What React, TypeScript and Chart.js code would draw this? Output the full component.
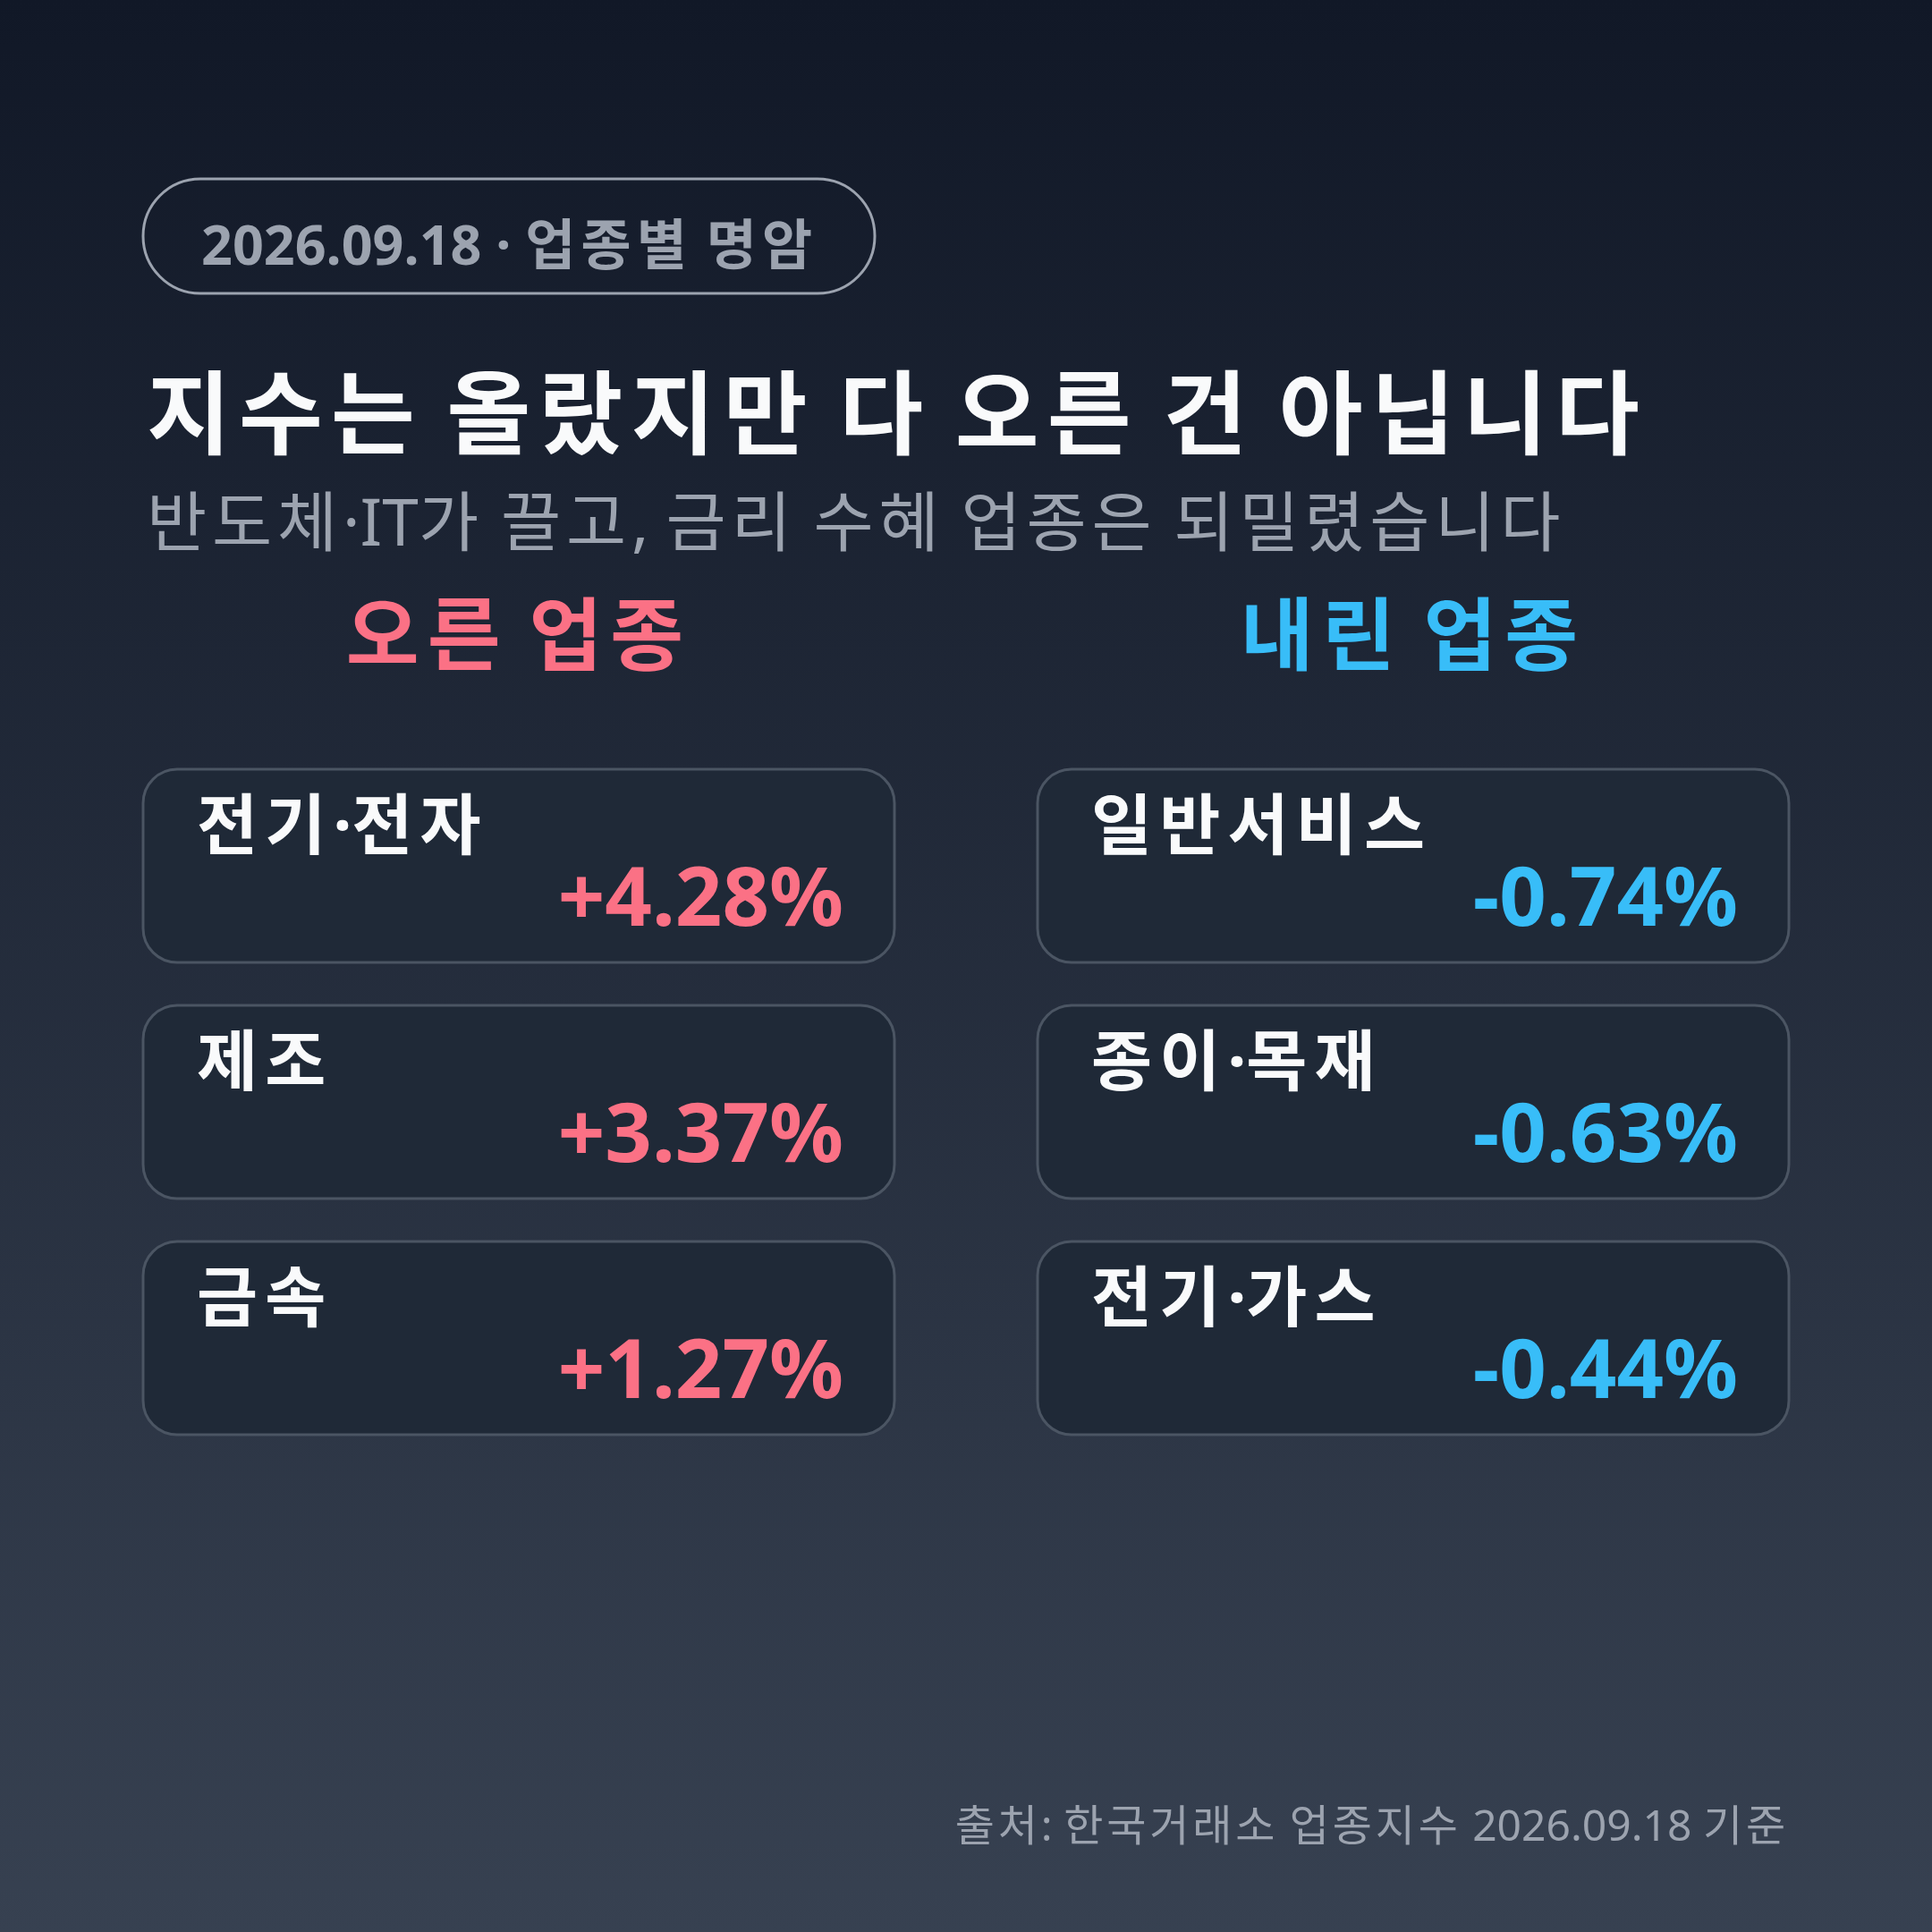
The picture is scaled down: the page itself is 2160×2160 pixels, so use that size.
import { useEffect, useRef } from "react"
import { Chart, registerables } from "chart.js"

Chart.register(...registerables)

// 데이터
const columns = ["오른 업종", "내린 업종"]
const ranks = ["1", "2", "3"]
const riseSectors = ["전기·전자", "제조", "금속"]
const riseChanges = [4.28, 3.37, 1.27]
const fallSectors = ["일반서비스", "종이·목재", "전기·가스"]
const fallChanges = [-0.74, -0.63, -0.44]

const badgeText = "2026.09.18 · 업종별 명암"
const titleText = "지수는 올랐지만 다 오른 건 아닙니다"
const subtitleText = "반도체·IT가 끌고, 금리 수혜 업종은 되밀렸습니다"
const sourceText = "출처: 한국거래소 업종지수 2026.09.18 기준"

const FONT = '"Noto Sans", "Noto Sans CJK KR", sans-serif'
const RISE = "#fb7185"
const FALL = "#38bdf8"
const GRAY = "#9ca3af"
const WHITE = "#f9fafb"

const fmt = (v: number) => (v > 0 ? "+" : "") + v.toFixed(2) + "%"

function roundRect(ctx: CanvasRenderingContext2D, x: number, y: number, w: number, h: number, r: number) {
  ctx.beginPath()
  ctx.moveTo(x + r, y)
  ctx.arcTo(x + w, y, x + w, y + h, r)
  ctx.arcTo(x + w, y + h, x, y + h, r)
  ctx.arcTo(x, y + h, x, y, r)
  ctx.arcTo(x, y, x + w, y, r)
  ctx.closePath()
}

// 한글 구간만 자간을 넓혀서 그림
const isHangul = (s: string) => /[\uAC00-\uD7A3]/.test(s)
function drawText(
  ctx: CanvasRenderingContext2D,
  text: string,
  x: number,
  y: number,
  weight: string,
  size: number,
  align: "left" | "right" | "center",
  spacing = weight === "bold" ? 0.1 : 0.08,
) {
  ctx.font = `${weight} ${size}px ${FONT}`
  ctx.textAlign = "left"
  const c = ctx as any
  const parts = text.match(/[\uAC00-\uD7A3]+|[^\uAC00-\uD7A3]+/g) ?? []
  const gap = size * spacing
  c.letterSpacing = "0px"
  const widths = parts.map((p) => ctx.measureText(p).width + (isHangul(p) ? gap * Array.from(p).length : 0))
  const total = widths.reduce((a, b) => a + b, 0)
  let cx = align === "left" ? x : align === "right" ? x - total : x - total / 2
  parts.forEach((p, i) => {
    c.letterSpacing = isHangul(p) ? `${gap}px` : "0px"
    ctx.fillText(p, cx, y)
    cx += widths[i]
  })
  c.letterSpacing = "0px"
}

const cardPlugin = {
  id: "cards",
  beforeDraw(chart: Chart) {
    const { ctx, width, height } = chart
    const g = ctx.createLinearGradient(0, 0, 0, height)
    g.addColorStop(0, "#111827")
    g.addColorStop(1, "#374151")
    ctx.save()
    ctx.fillStyle = g
    ctx.fillRect(0, 0, width, height)

    // 배지
    roundRect(ctx, 160, 200, 818, 128, 64)
    ctx.lineWidth = 3
    ctx.strokeStyle = GRAY
    ctx.stroke()
    ctx.textBaseline = "alphabetic"
    ctx.fillStyle = GRAY
    drawText(ctx, badgeText, 225, 296, "bold", 61, "left")

    ctx.fillStyle = WHITE
    drawText(ctx, titleText, 164, 500, "bold", 102, "left", 0.09)

    ctx.fillStyle = GRAY
    drawText(ctx, subtitleText, 164, 610, "400", 73, "left")
    drawText(ctx, sourceText, 2000, 2058, "400", 48, "right")
    ctx.restore()
  },
  afterDatasetsDraw(chart: Chart) {
    const { ctx } = chart
    const xs = chart.scales.x
    const ys = chart.scales.y
    const cw = (xs.width / columns.length) * 0.84
    const ch = (ys.height / ranks.length) * 0.818
    ctx.save()
    ctx.textBaseline = "alphabetic"
    columns.forEach((c, i) => {
      ctx.fillStyle = i === 0 ? RISE : FALL
      drawText(ctx, c, xs.getPixelForValue(i), chart.chartArea.top - 94, "bold", 89, "center")
    })
    chart.data.datasets.forEach((ds, d) => {
      const meta = chart.getDatasetMeta(d)
      const names = d === 0 ? riseSectors : fallSectors
      const vals = d === 0 ? riseChanges : fallChanges
      meta.data.forEach((el, i) => {
        const left = el.x - cw / 2
        const top = el.y - ch / 2
        roundRect(ctx, left, top, cw, ch, 38)
        ctx.fillStyle = "#1f2937"
        ctx.fill()
        ctx.lineWidth = 3
        ctx.strokeStyle = "#4b5563"
        ctx.stroke()

        ctx.fillStyle = WHITE
        drawText(ctx, names[i], left + 60, top + 89, "bold", 74, "left", 0.11)

        ctx.fillStyle = ds.borderColor as string
        drawText(ctx, fmt(vals[i]), left + cw - 57, top + 175, "bold", 92, "right")
      })
    })
    ctx.restore()
  },
}

export default function App() {
  const chartRef = useRef<HTMLCanvasElement>(null)
  const chartInstance = useRef<Chart | null>(null)

  useEffect(() => {
    if (!chartRef.current) return
    if (chartInstance.current) chartInstance.current.destroy()

    const ctx = chartRef.current.getContext("2d")
    if (!ctx) return

    chartInstance.current = new Chart(ctx, {
      type: "scatter",
      data: {
        datasets: [
          {
            label: columns[0],
            data: riseChanges.map((_, i) => ({ x: 0, y: i })),
            borderColor: RISE,
            pointRadius: 0,
          },
          {
            label: columns[1],
            data: fallChanges.map((_, i) => ({ x: 1, y: i })),
            borderColor: FALL,
            pointRadius: 0,
          },
        ],
      },
      options: {
        animation: false,
        responsive: true,
        maintainAspectRatio: false,
        devicePixelRatio: 1,
        layout: { padding: { left: 80, right: 80, top: 836, bottom: 532 } },
        plugins: { legend: { display: false }, tooltip: { enabled: false } },
        scales: {
          x: { type: "linear", min: -0.5, max: columns.length - 0.5, display: false },
          y: { type: "linear", min: -0.5, max: ranks.length - 0.5, reverse: true, display: false },
        },
      },
      plugins: [cardPlugin],
    })

    document.fonts?.load(`bold 100px "Noto Sans"`).then(() => chartInstance.current?.update())

    return () => {
      if (chartInstance.current) {
        chartInstance.current.destroy()
        chartInstance.current = null
      }
    }
  }, [])

  return (
    <div style={{ position: "absolute", left: 0, top: 0, width: 2160, height: 2160 }}>
      <canvas ref={chartRef} />
    </div>
  )
}
